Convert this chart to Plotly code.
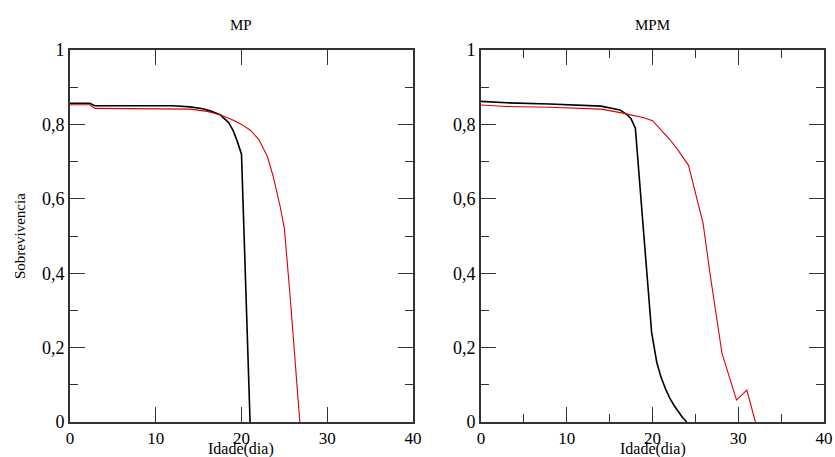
import plotly.graph_objects as go

# ---- data ----
mp_black_x = [0, 2.3, 2.9, 12, 14, 15.5, 16.5, 17.5, 18.5, 19, 19.5, 20, 21]
mp_black_y = [0.857, 0.857, 0.850, 0.850, 0.847, 0.842, 0.835, 0.826, 0.805, 0.785, 0.755, 0.72, 0.0]

mp_red_x = [0, 2.3, 2.9, 12, 14, 16, 17.5, 19, 20, 21, 22, 23, 23.7, 24.5, 25, 25.7, 26.8]
mp_red_y = [0.853, 0.853, 0.843, 0.843, 0.841, 0.835, 0.826, 0.812, 0.80, 0.785, 0.76, 0.715, 0.66, 0.58, 0.52, 0.33, 0.0]

mpm_black_x = [0, 3, 8, 12.3, 14, 16.2, 17, 17.5, 18, 19, 19.9, 20.5, 21, 21.5, 22, 22.5, 23, 23.5, 24]
mpm_black_y = [0.862, 0.858, 0.855, 0.852, 0.849, 0.839, 0.827, 0.815, 0.79, 0.5, 0.24, 0.16, 0.12, 0.09, 0.065, 0.045, 0.028, 0.012, 0.0]

mpm_red_x = [0, 3, 8, 12, 14, 16.4, 17, 18, 19, 20, 21, 22, 23, 24.2, 25.9, 26.7, 28.1, 29, 29.8, 31, 32]
mpm_red_y = [0.852, 0.848, 0.846, 0.844, 0.841, 0.831, 0.828, 0.824, 0.818, 0.81, 0.785, 0.76, 0.73, 0.69, 0.534, 0.40, 0.185, 0.12, 0.059, 0.086, 0.0]

panel_titles = ["MP", "MPM"]
x_title = "Idade(dia)"
y_title = "Sobrevivencia"

FONT = "Liberation Serif"
AX = "#333333"
RED = "#d80000"

fig = go.Figure()
fig.add_trace(go.Scatter(x=mp_black_x, y=mp_black_y, mode="lines",
                         line=dict(color="black", width=1.6), xaxis="x", yaxis="y"))
fig.add_trace(go.Scatter(x=mp_red_x, y=mp_red_y, mode="lines",
                         line=dict(color=RED, width=1.1), xaxis="x", yaxis="y"))
fig.add_trace(go.Scatter(x=mpm_black_x, y=mpm_black_y, mode="lines",
                         line=dict(color="black", width=1.6), xaxis="x2", yaxis="y2"))
fig.add_trace(go.Scatter(x=mpm_red_x, y=mpm_red_y, mode="lines",
                         line=dict(color=RED, width=1.1), xaxis="x2", yaxis="y2"))

common_x = dict(range=[0, 40], dtick=10, tick0=0, ticks="inside", ticklen=15, tickwidth=1.2,
                tickcolor=AX, showline=True, linecolor=AX, linewidth=1.6, mirror="ticks",
                showgrid=False, zeroline=False, automargin=False,
                tickfont=dict(family=FONT, size=17, color="black"))
common_y = dict(range=[0, 1], dtick=0.2, tick0=0, ticks="inside", ticklen=15, tickwidth=1.2,
                tickcolor=AX, showline=True, linecolor=AX, linewidth=1.6, mirror="ticks",
                showgrid=False, zeroline=False, automargin=False,
                tickfont=dict(family=FONT, size=18, color="black"),
                minor=dict(ticks="inside", ticklen=8, dtick=0.1, tickcolor=AX, tickwidth=1.2, showgrid=False))

XL, XR = 0.4549, 0.5451

fig.update_layout(
    width=835, height=457,
    margin=dict(l=70, r=11, t=50, b=35),
    paper_bgcolor="white", plot_bgcolor="white",
    showlegend=False,
    separators=",.",
    font=dict(family=FONT, color="black"),
    xaxis=dict(domain=[0, XL], anchor="y", **common_x),
    yaxis=dict(domain=[0, 1], anchor="x", **common_y),
    xaxis2=dict(domain=[XR, 1], anchor="y2",
                minor=dict(ticks="inside", ticklen=8, dtick=5, tickcolor=AX, tickwidth=1.2, showgrid=False),
                **common_x),
    yaxis2=dict(domain=[0, 1], anchor="x2", **common_y),
    annotations=[
        dict(text=panel_titles[0], x=XL / 2, y=1, xref="paper", yref="paper", xanchor="center",
             yanchor="middle", yshift=25, showarrow=False, font=dict(family=FONT, size=15, color="black")),
        dict(text=panel_titles[1], x=(XR + 1) / 2, y=1, xref="paper", yref="paper", xanchor="center",
             yanchor="middle", yshift=25, showarrow=False, font=dict(family=FONT, size=15, color="black")),
        dict(text=x_title, x=XL / 2, y=0, xref="paper", yref="paper", xanchor="center",
             yanchor="middle", yshift=-27, showarrow=False, font=dict(family=FONT, size=16, color="black")),
        dict(text=x_title, x=(XR + 1) / 2, y=0, xref="paper", yref="paper", xanchor="center",
             yanchor="middle", yshift=-27, showarrow=False, font=dict(family=FONT, size=16, color="black")),
        dict(text=y_title, x=0, y=0.5, xref="paper", yref="paper", xanchor="center", yanchor="middle",
             xshift=-50, textangle=-90, showarrow=False, font=dict(family=FONT, size=15, color="black")),
    ],
)

fig.write_html("out.html", config={"displayModeBar": False},
               post_script="document.body.style.margin='0';")
